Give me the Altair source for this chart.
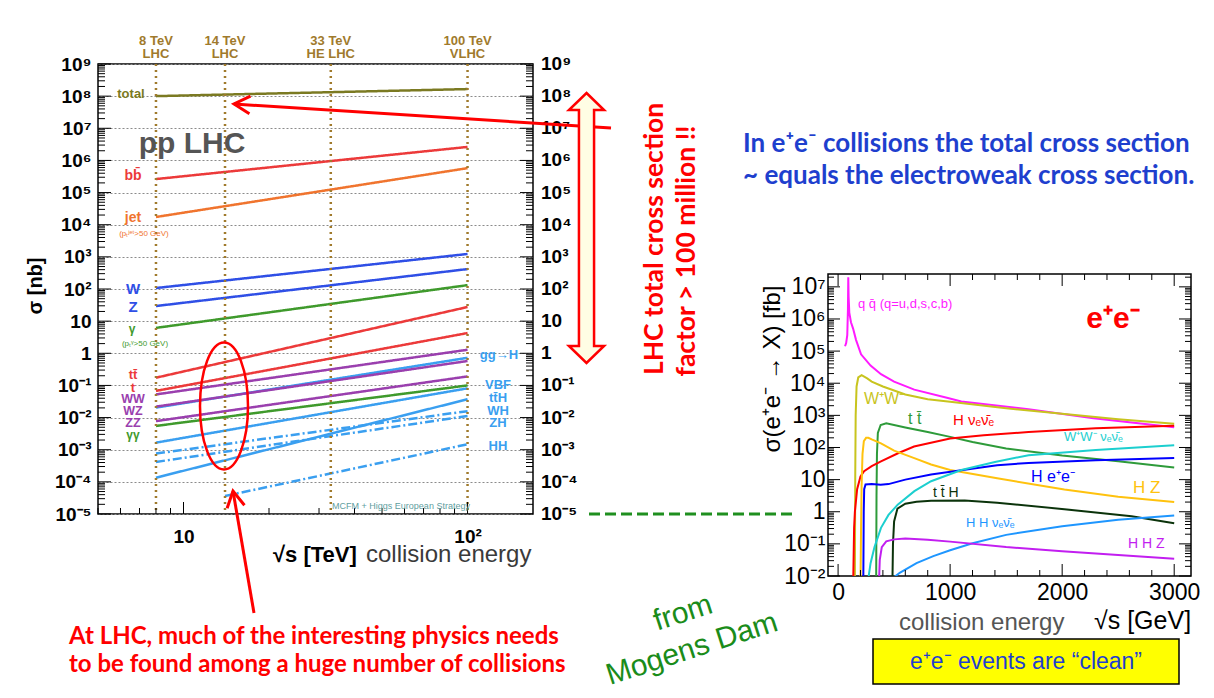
import altair as alt
import pandas as pd

FONT = "Liberation Sans"
SLIDE = "Lato"

# ---------------- pp LHC chart: sigma [nb] vs sqrt(s) [TeV] (log10 readings) ----------------
pp_names = ["total", "bb", "jet", "W", "Z", "gamma", "ttbar", "t", "WW", "ggH",
            "WZ", "ZZ", "gamgam", "VBF", "ttH", "WH", "ZH", "HH"]
pp_e_start = [8, 8, 8, 8, 8, 8, 8, 8, 8, 8, 8, 8, 8, 8, 8, 8, 8, 14]
pp_log_start = [8.00, 5.42, 4.24, 2.03, 1.47, 0.79, -0.76, -1.17, -1.28, -1.69,
                -1.66, -2.11, -2.26, -2.78, -3.87, -3.12, -3.38, -4.44]
pp_e_end = [100] * 18
pp_log_end = [8.22, 6.42, 5.76, 3.09, 2.62, 2.12, 1.44, 0.63, 0.11, -0.14,
              -0.24, -0.72, -1.00, -1.09, -1.43, -1.80, -1.95, -2.83]

lhc_energies = [8, 14, 33, 100]
lhc_line1 = ["8 TeV", "14 TeV", "33 TeV", "100 TeV"]
lhc_line2 = ["LHC", "LHC", "HE LHC", "VLHC"]

pp_exp = list(range(-5, 10))
pp_labels = ["10⁻⁵", "10⁻⁴", "10⁻³", "10⁻²", "10⁻¹", "1", "10", "10²", "10³",
             "10⁴", "10⁵", "10⁶", "10⁷", "10⁸", "10⁹"]

# ---------------- e+e- chart: sigma [fb] vs sqrt(s) [GeV] (log10 readings) ----------------
ee_names = ["qq", "WW", "tt", "Hvv", "HZ", "Hee", "WWvv", "ttH", "HHvv", "HHZ"]
ee_s = {
    "qq":   [62, 72, 82, 88, 91, 94, 100, 115, 134, 160, 205, 290, 383, 500, 680, 980, 1100, 1700, 2280, 3000],
    "WW":   [150, 153, 157, 165, 180, 210, 260, 300, 400, 600, 800, 1000, 1500, 2000, 2500, 3000],
    "tt":   [340, 343, 347, 355, 380, 430, 600, 800, 1000, 1200, 1500, 2000, 2500, 3000],
    "Hvv":  [135, 143, 150, 170, 200, 232, 300, 383, 535, 678, 1000, 1300, 1700, 2300, 3000],
    "HZ":   [200, 205, 210, 218, 230, 250, 270, 300, 383, 500, 680, 830, 1000, 1420, 2020, 2500, 3000],
    "Hee":  [225, 229, 233, 245, 300, 380, 450, 600, 830, 1130, 1420, 1700, 2300, 3000],
    "WWvv": [265, 290, 325, 383, 450, 532, 681, 830, 1100, 1400, 1700, 2300, 3000],
    "ttH":  [485, 490, 500, 530, 600, 700, 830, 1130, 1420, 2020, 2620, 3000],
    "HHvv": [495, 550, 700, 850, 1000, 1200, 1500, 2000, 2500, 3000],
    "HHZ":  [365, 372, 390, 430, 500, 600, 800, 1000, 1500, 2000, 2500, 3000],
}
ee_log = {
    "qq":   [5.15, 5.25, 5.5, 6.3, 7.3, 6.7, 6.2, 5.9, 5.7, 5.35, 4.9, 4.55, 4.28, 4.05, 3.8, 3.54, 3.43, 3.19, 2.91, 2.63],
    "WW":   [-2.2, 1.0, 3.0, 3.9, 4.18, 4.25, 4.15, 4.05, 3.9, 3.65, 3.5, 3.42, 3.22, 3.05, 2.88, 2.74],
    "tt":   [-2.2, 0.5, 1.8, 2.45, 2.7, 2.75, 2.62, 2.48, 2.33, 2.17, 1.97, 1.75, 1.57, 1.38],
    "Hvv":  [-2.2, -0.5, 0.0, 0.7, 1.1, 1.26, 1.42, 1.57, 1.82, 2.03, 2.28, 2.38, 2.48, 2.6, 2.68],
    "HZ":   [-2.2, -0.5, 0.8, 1.8, 2.2, 2.3, 2.3, 2.25, 2.13, 1.9, 1.67, 1.47, 1.3, 1.04, 0.69, 0.47, 0.3],
    "Hee":  [-2.2, 0.0, 0.7, 0.85, 0.86, 0.84, 0.86, 1.0, 1.16, 1.31, 1.45, 1.52, 1.6, 1.67],
    "WWvv": [-2.2, -1.6, -1.1, -0.5, -0.1, 0.22, 0.64, 0.95, 1.3, 1.55, 1.76, 1.92, 2.07],
    "ttH":  [-2.2, -1.0, -0.3, 0.1, 0.25, 0.31, 0.34, 0.35, 0.28, 0.08, -0.14, -0.36],
    "HHvv": [-2.05, -1.9, -1.6, -1.38, -1.2, -0.98, -0.72, -0.45, -0.25, -0.12],
    "HHZ":  [-2.2, -1.5, -1.1, -0.92, -0.86, -0.83, -0.87, -0.93, -1.1, -1.23, -1.35, -1.46],
}
ee_exp = list(range(-2, 8))
ee_labels = ["10⁻²", "10⁻¹", "1", "10", "10²", "10³", "10⁴", "10⁵", "10⁶", "10⁷"]
ee_xticks = [0, 1000, 2000, 3000]

# ---------------- styles ----------------
OLIVE, RED, ORANGE, BLUE = "#7b7a22", "#ec3a3a", "#f0742e", "#2f4fe6"
GREEN, PURPLE, LBLUE, BROWN = "#3f9a2c", "#9a3fae", "#3a9ff0", "#a07a2c"
pp_colors = [OLIVE, RED, ORANGE, BLUE, BLUE, GREEN, RED, RED, PURPLE, LBLUE,
             PURPLE, PURPLE, GREEN, LBLUE, LBLUE, LBLUE, LBLUE, LBLUE]
pp_dashes = [[1, 0]] * 15 + [[9, 3, 2, 3]] * 3
ee_colors = ["#ff1aff", "#c8c41e", "#2e9b3a", "#ff0000", "#ffc20e", "#0000ff",
             "#1ccfcf", "#0b330b", "#1e96ff", "#c21ef0"]

ONE = pd.DataFrame({"a": [0]})


def T(s, x, y, size, color, weight="normal", align="center", angle=0, font=FONT):
    kw = dict(text=s, fontSize=size, color=color, fontWeight=weight, align=align,
              baseline="middle", font=font)
    if angle:
        kw["angle"] = angle
    return alt.Chart(ONE).mark_text(**kw).encode(x=alt.value(x), y=alt.value(y))


def PR(x0, y0, x1, y1, color, width, dash=None):
    kw = dict(color=color, strokeWidth=width)
    if dash:
        kw["strokeDash"] = dash
    return alt.Chart(ONE).mark_rule(**kw).encode(
        x=alt.value(x0), y=alt.value(y0), x2=alt.value(x1), y2=alt.value(y1))


def SYM(path, x, y, size, angle=0, filled=False, fill="white", color="red", sw=2.5):
    kw = dict(shape=path, size=size, strokeWidth=sw, opacity=1)
    if angle:
        kw["angle"] = angle
    if filled:
        kw.update(filled=True, fill=fill, stroke=color)
    else:
        kw.update(filled=False, color=color)
    return alt.Chart(ONE).mark_point(**kw).encode(x=alt.value(x), y=alt.value(y))


def lab_expr(labels, offset):
    arr = ",".join("'" + s + "'" for s in labels)
    return "[" + arr + "][round(log(datum.value)/LN10)+" + str(offset) + "]"


# ================= LEFT (pp) =================
W_L, H_L = 435, 450
xsc = alt.Scale(type="log", domain=[5, 170], nice=False)
ysc = alt.Scale(type="log", domain=[1e-5, 1e9], nice=False)
pp_decades = [10.0 ** k for k in pp_exp]
xax = alt.Axis(values=[10, 100], labelExpr="datum.value < 50 ? '10' : '10²'",
               labelFont=FONT, labelFontSize=19, labelFontWeight="bold", labelColor="black",
               labelPadding=13, ticks=False, tickSize=0, domain=False, grid=False, title=None,
               labelOverlap=False)
yax = alt.Axis(values=pp_decades, labelExpr=lab_expr(pp_labels, 5),
               labelFont=FONT, labelFontSize=19, labelFontWeight="bold", labelColor="black",
               labelPadding=7, ticks=False, tickSize=0, domain=False, grid=True,
               gridColor="#8a8a8a", gridDash=[2, 2], gridWidth=1, title=None, labelOverlap=False)

rows = []
for n, e0, l0, e1, l1 in zip(pp_names, pp_e_start, pp_log_start, pp_e_end, pp_log_end):
    rows.append({"series": n, "E": e0, "sig": 10 ** l0})
    rows.append({"series": n, "E": e1, "sig": 10 ** l1})
pp_df = pd.DataFrame(rows)

X = alt.X("E:Q", scale=xsc, axis=xax)
Y = alt.Y("sig:Q", scale=ysc, axis=yax)

bg = alt.Chart(ONE).mark_rect(fill="white", opacity=0.01).encode(
    x=alt.value(-89), y=alt.value(-55), x2=alt.value(1103), y2=alt.value(625))

pp_lines = alt.Chart(pp_df).mark_line(strokeWidth=2.5, clip=True).encode(
    x=X, y=Y,
    color=alt.Color("series:N", scale=alt.Scale(domain=pp_names, range=pp_colors), legend=None),
    strokeDash=alt.StrokeDash("series:N", scale=alt.Scale(domain=pp_names, range=pp_dashes), legend=None),
)

lhc_df = pd.DataFrame({"E": lhc_energies, "l1": lhc_line1, "l2": lhc_line2})
vlines = alt.Chart(lhc_df).mark_rule(color=BROWN, strokeWidth=2.5, strokeDash=[2, 4]).encode(
    x=X, y=alt.value(0), y2=alt.value(H_L))
top1 = alt.Chart(lhc_df).mark_text(font=FONT, fontSize=13, fontWeight="bold", color=BROWN).encode(
    x=X, y=alt.value(-23), text="l1:N")
top2 = alt.Chart(lhc_df).mark_text(font=FONT, fontSize=13, fontWeight="bold", color=BROWN).encode(
    x=X, y=alt.value(-10), text="l2:N")

pp_minor = [m * 10.0 ** k for k in range(-5, 9) for m in range(2, 10)]
ymaj_df = pd.DataFrame({"sig": pp_decades})
ymin_df = pd.DataFrame({"sig": pp_minor})


def yticks(df, x0, x1):
    return alt.Chart(df).mark_rule(color="black", strokeWidth=1).encode(
        y=Y, x=alt.value(x0), x2=alt.value(x1))


xmaj_df = pd.DataFrame({"E": [10, 100]})
xmin_df = pd.DataFrame({"E": [5, 6, 7, 8, 9, 20, 30, 40, 50, 60, 70, 80, 90]})


def xticks(df, y0, y1):
    return alt.Chart(df).mark_rule(color="black", strokeWidth=1).encode(
        x=X, y=alt.value(y0), y2=alt.value(y1))


rlab_df = pd.DataFrame({"sig": pp_decades, "lab": pp_labels})
rlabels = alt.Chart(rlab_df).mark_text(align="left", baseline="middle", font=FONT, fontSize=19,
                                       fontWeight="bold", color="black").encode(
    y=Y, x=alt.value(W_L + 8), text="lab:N")

ELLIPSE = "M0,-1 A0.378,1 0 1,1 0,1 A0.378,1 0 1,1 0,-1 Z"
DARROW = ("M0,-1 L0.13,-0.874 L0.056,-0.874 L0.056,0.874 L0.13,0.874 L0,1 "
          "L-0.13,0.874 L-0.056,0.874 L-0.056,-0.874 L-0.13,-0.874 Z")
VHEAD = "M1,-0.55 L0,0 L1,0.55"

left_ann = [
    T("pp LHC", 94, 80, 30, "#555555", "bold"),
    T("total", 33, 30, 13, OLIVE, "bold"),
    T("bb\u0304", 35, 112, 14, RED, "bold"),
    T("jet", 35, 154, 14, ORANGE, "bold"),
    T("(p\u209c\u02b2\u1d49\u1d57>50 GeV)", 46, 170, 8, ORANGE),
    T("W", 35, 225, 15, BLUE, "bold"),
    T("Z", 35, 243, 15, BLUE, "bold"),
    T("γ", 34, 265, 12, GREEN, "bold"),
    T("(p\u209c\u1d5e>50 GeV)", 47, 280, 8, GREEN),
    T("tt\u0304", 35, 311, 13, RED, "bold"),
    T("t", 35, 324, 13, RED, "bold"),
    T("WW", 35, 335, 12.5, PURPLE, "bold"),
    T("WZ", 35, 347, 12.5, PURPLE, "bold"),
    T("ZZ", 35, 359, 12.5, PURPLE, "bold"),
    T("γγ", 35, 371, 12, GREEN, "bold"),
    T("gg→H", 401, 291, 13, LBLUE, "bold"),
    T("VBF", 400, 321, 13, LBLUE, "bold"),
    T("tt\u0304H", 400, 334, 13, LBLUE, "bold"),
    T("WH", 400, 347, 13, LBLUE, "bold"),
    T("ZH", 400, 359, 13, LBLUE, "bold"),
    T("HH", 400, 382, 13, LBLUE, "bold"),
    T("MCFM + Higgs European Strategy", 303, 442, 9, "#5f9ea0"),
    T("σ [nb]", -62, 222, 20, "black", "bold", angle=270),
    T("√s [TeV]", 175, 491, 22, "black", "bold", align="left"),
    T("collision energy", 268, 491, 24, "#3a3a3a", align="left"),
    # annotations of the slide
    SYM(ELLIPSE, 126, 342, 16129, color="#ff0000"),
    PR(513, 64, 136, 40, "#ff0000", 3),
    SYM(VHEAD, 136, 40, 1024, angle=3.6, color="#ff0000", sw=3),
    PR(156, 549, 135, 427, "#ff0000", 3),
    SYM(VHEAD, 135, 427, 1024, angle=80, color="#ff0000", sw=3),
    SYM(DARROW, 488.5, 164, 72900, filled=True, fill="#fffde4", color="#ff0000", sw=2.5),
    T("LHC total cross section", 557, 175, 26.5, "#ff0000", "bold", angle=270, font=SLIDE),
    T("factor > 100 million !!", 589, 187, 26.5, "#ff0000", "bold", angle=270, font=SLIDE),
    PR(491, 450, 695, 450, "#1f8f1f", 3, dash=[11, 5]),
    T("from", 585, 549, 30, "#1a8c1a", angle=342),
    T("Mogens Dam", 594, 585, 30, "#1a8c1a", angle=342),
    T("At LHC, much of the interesting physics needs", -29, 573, 24, "#ff0000", "bold",
      align="left", font=SLIDE),
    T("to be found among a huge number of collisions", -29, 601, 24, "#ff0000", "bold",
      align="left", font=SLIDE),
]

left = alt.layer(
    bg, pp_lines, vlines, top1, top2,
    yticks(ymaj_df, 0, 13), yticks(ymin_df, 0, 7),
    yticks(ymaj_df, W_L - 13, W_L), yticks(ymin_df, W_L - 7, W_L),
    xticks(xmaj_df, H_L, H_L - 12), xticks(xmin_df, H_L, H_L - 6),
    rlabels, *left_ann,
).properties(width=W_L, height=H_L)

# ================= RIGHT (e+e-) =================
W_R, H_R = 363, 302
rxs = alt.Scale(domain=[-90, 3150], nice=False, zero=False)
rys = alt.Scale(type="log", domain=[1e-2, 10 ** 7.4], nice=False)
ee_decades = [10.0 ** k for k in ee_exp]
rxax = alt.Axis(values=ee_xticks, labelFont=FONT, labelFontSize=23, labelColor="black",
                labelPadding=5, ticks=False, tickSize=0, domain=False, grid=False, title=None,
                labelOverlap=False, format="d")
ryax = alt.Axis(values=ee_decades, labelExpr=lab_expr(ee_labels, 2), labelFont=FONT,
                labelFontSize=23, labelColor="black", labelPadding=3, ticks=False, tickSize=0,
                domain=False, grid=False, title=None, labelOverlap=False)
RX = alt.X("s:Q", scale=rxs, axis=rxax)
RY = alt.Y("sig:Q", scale=rys, axis=ryax)

erows = []
for n in ee_names:
    for s, l in zip(ee_s[n], ee_log[n]):
        erows.append({"proc": n, "s": s, "sig": 10 ** l})
ee_df = pd.DataFrame(erows)

ee_lines = alt.Chart(ee_df).mark_line(strokeWidth=2, clip=True).encode(
    x=RX, y=RY,
    color=alt.Color("proc:N", scale=alt.Scale(domain=ee_names, range=ee_colors), legend=None),
)

ee_minor = [m * 10.0 ** k for k in range(-2, 8) for m in range(2, 10) if m * 10.0 ** k < 2.5e7]
rymaj = pd.DataFrame({"sig": ee_decades})
rymin = pd.DataFrame({"sig": ee_minor})
rxmaj = pd.DataFrame({"s": ee_xticks})
rxmin = pd.DataFrame({"s": [v for v in range(0, 3001, 200) if v % 1000 != 0]})


def ryt(df, x0, x1):
    return alt.Chart(df).mark_rule(color="black", strokeWidth=1).encode(
        y=RY, x=alt.value(x0), x2=alt.value(x1))


def rxt(df, y0, y1):
    return alt.Chart(df).mark_rule(color="black", strokeWidth=1).encode(
        x=RX, y=alt.value(y0), y2=alt.value(y1))


right_ann = [
    T("q q\u0304 (q=u,d,s,c,b)", 30, 30, 13, "#ff1aff", align="left"),
    T("W⁺W⁻", 36, 125, 16, "#c8c41e", align="left"),
    T("t t\u0304", 80, 145, 16, "#2e9b3a", align="left"),
    T("H ν\u2091ν\u0304\u2091", 125, 146, 15, "#ff0000", align="left"),
    T("W⁺W⁻ ν\u2091ν\u0304\u2091", 236, 163, 13, "#1ccfcf", align="left"),
    T("H e⁺e⁻", 203, 203, 16, "#0000ff", align="left"),
    T("H Z", 305, 214, 17, "#ffc20e", align="left"),
    T("t t\u0304 H", 105, 219, 14, "#0b330b", align="left"),
    T("H H ν\u2091ν\u0304\u2091", 138, 249, 13, "#1e96ff", align="left"),
    T("H H Z", 300, 270, 14, "#c21ef0", align="left"),
    T("e⁺e⁻", 285, 45, 30, "#ff0000", "bold"),
    T("σ(e⁺e⁻ → X) [fb]", -55, 95, 24, "black", angle=270),
    T("collision energy", 71, 349, 24, "#555555", align="left"),
    T("√s [GeV]", 266, 347, 25, "black", align="left"),
    alt.Chart(ONE).mark_rect(fill="#ffff00", stroke="black", strokeWidth=1.5).encode(
        x=alt.value(45), y=alt.value(365), x2=alt.value(351), y2=alt.value(410)),
    T("e⁺e⁻ events are “clean”", 198, 388, 23, "#1f3fd0"),
    T("In e⁺e⁻ collisions the total cross section", -85, -130, 26, "#1e3fce", "bold",
      align="left", font=SLIDE),
    T("~ equals the electroweak cross section.", -85, -98, 26, "#1e3fce", "bold",
      align="left", font=SLIDE),
]

right = alt.layer(
    ee_lines,
    ryt(rymaj, 0, 12), ryt(rymin, 0, 6), ryt(rymaj, W_R - 12, W_R), ryt(rymin, W_R - 6, W_R),
    rxt(rxmaj, H_R, H_R - 12), rxt(rxmin, H_R, H_R - 6), rxt(rxmaj, 0, 12), rxt(rxmin, 0, 6),
    *right_ann,
).properties(width=W_R, height=H_R)

spacer = alt.Chart(ONE).mark_text(text="").encode(x=alt.value(0), y=alt.value(0)).properties(
    width=W_R, height=210, view=alt.ViewBackground(strokeOpacity=0))

right_col = alt.vconcat(spacer, right, spacing=0, bounds="flush")

chart = alt.hconcat(left, right_col, spacing=295, bounds="flush").resolve_scale(
    color="independent", strokeDash="independent"
).properties(
    padding=0, background="white"
).configure_view(stroke="black", strokeWidth=1.5)

chart.save("out.html", embed_options={"renderer": "svg", "actions": False})
